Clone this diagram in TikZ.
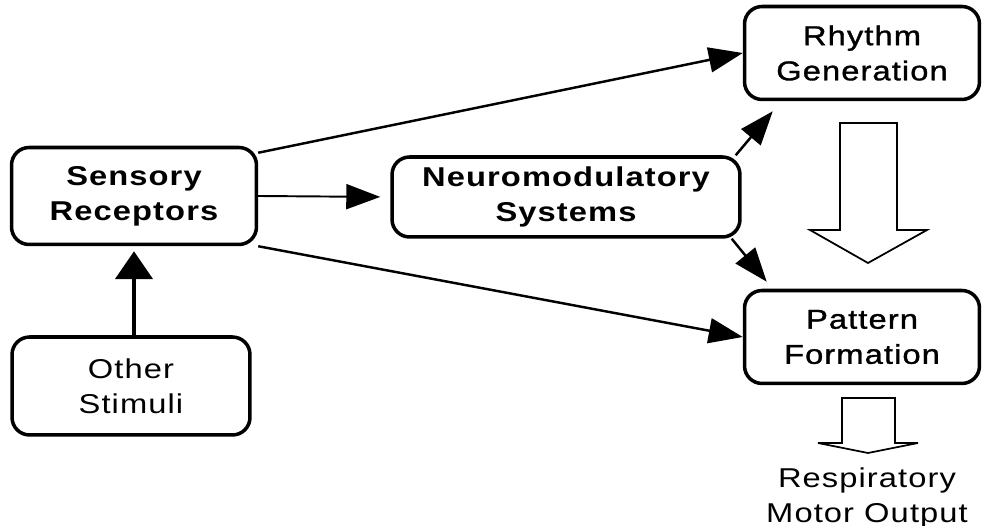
\documentclass[tikz,border=0pt]{standalone}
\usepackage{fontspec}
\setmainfont{Liberation Sans}[FakeStretch=1.2,LetterSpace=4]
\newfontfamily\halfvet{Liberation Sans}[FakeStretch=1.2,LetterSpace=4,FakeBold=1.2]
\usepackage{tikz}
\usetikzlibrary{arrows.meta, calc}

\tikzset{
  blok/.style={draw, line width=2pt, rounded corners=10pt, align=center, inner sep=0pt,
    font=\fontsize{15.5}{20}\selectfont},
  pijl/.style={line width=1.4pt, -{Triangle[length=0.68cm,width=0.5cm]}},
  holpijl/.style={line width=1pt, fill=white}
}

\begin{document}
\begin{tikzpicture}[x=0.02cm, y=-0.02cm]
      \useasboundingbox (0,0) rectangle (984,526);

      \node[blok, minimum width=4.9cm, minimum height=1.94cm, font=\fontsize{15.5}{20}\selectfont\bfseries] (sens) at (134,196) {Sensory\\Receptors};
      \node[blok, minimum width=4.76cm, minimum height=1.96cm] (other) at (131,386) {Other\\Stimuli};
      \node[blok, minimum width=6.96cm, minimum height=1.6cm, font=\fontsize{15.5}{20}\selectfont\bfseries] (neuro) at (566,197) {Neuromodulatory\\Systems};
      \node[blok, minimum width=4.7cm, minimum height=1.86cm, font=\fontsize{15.5}{20}\halfvet] (rhythm) at (862,53) {Rhythm\\Generation};
      \node[blok, minimum width=4.7cm, minimum height=1.86cm, font=\fontsize{15.5}{20}\halfvet] (pattern) at (862,337) {Pattern\\Formation};
      \node[align=center, font=\fontsize{15.5}{20}\selectfont] (output) at (867,498) {Respiratory\\Motor Output};

      \draw[pijl] ($(sens.north east)+(0,7)$) -- (rhythm.west);
      \draw[pijl, line width=1.1pt, shorten >=0.2cm] (sens.east) -- (neuro.west);
      \draw[pijl] (sens.south east) -- (pattern.west);
      \draw[pijl] ($(neuro.north east)+(-6,0)$) -- ($(rhythm.south west)+(30,10)$);
      \draw[pijl] ($(neuro.south east)+(-10,0)$) -- ($(pattern.north west)+(24,-7)$);
      \draw[line width=2.8pt, -{Triangle[length=0.56cm,width=0.74cm]}, shorten >=0.1cm] (sens.south |- other.north) -- (sens.south);

      % hollow arrows
      \draw[holpijl] (840,123) -- (897,123) -- (897,230) -- (927,230) -- (868,263) -- (810,230) -- (840,230) -- cycle;
      \draw[holpijl] (842,398) -- (895,398) -- (895,443) -- (918,443) -- (868,453) -- (818,443) -- (842,443) -- cycle;
    \end{tikzpicture}
\end{document}
